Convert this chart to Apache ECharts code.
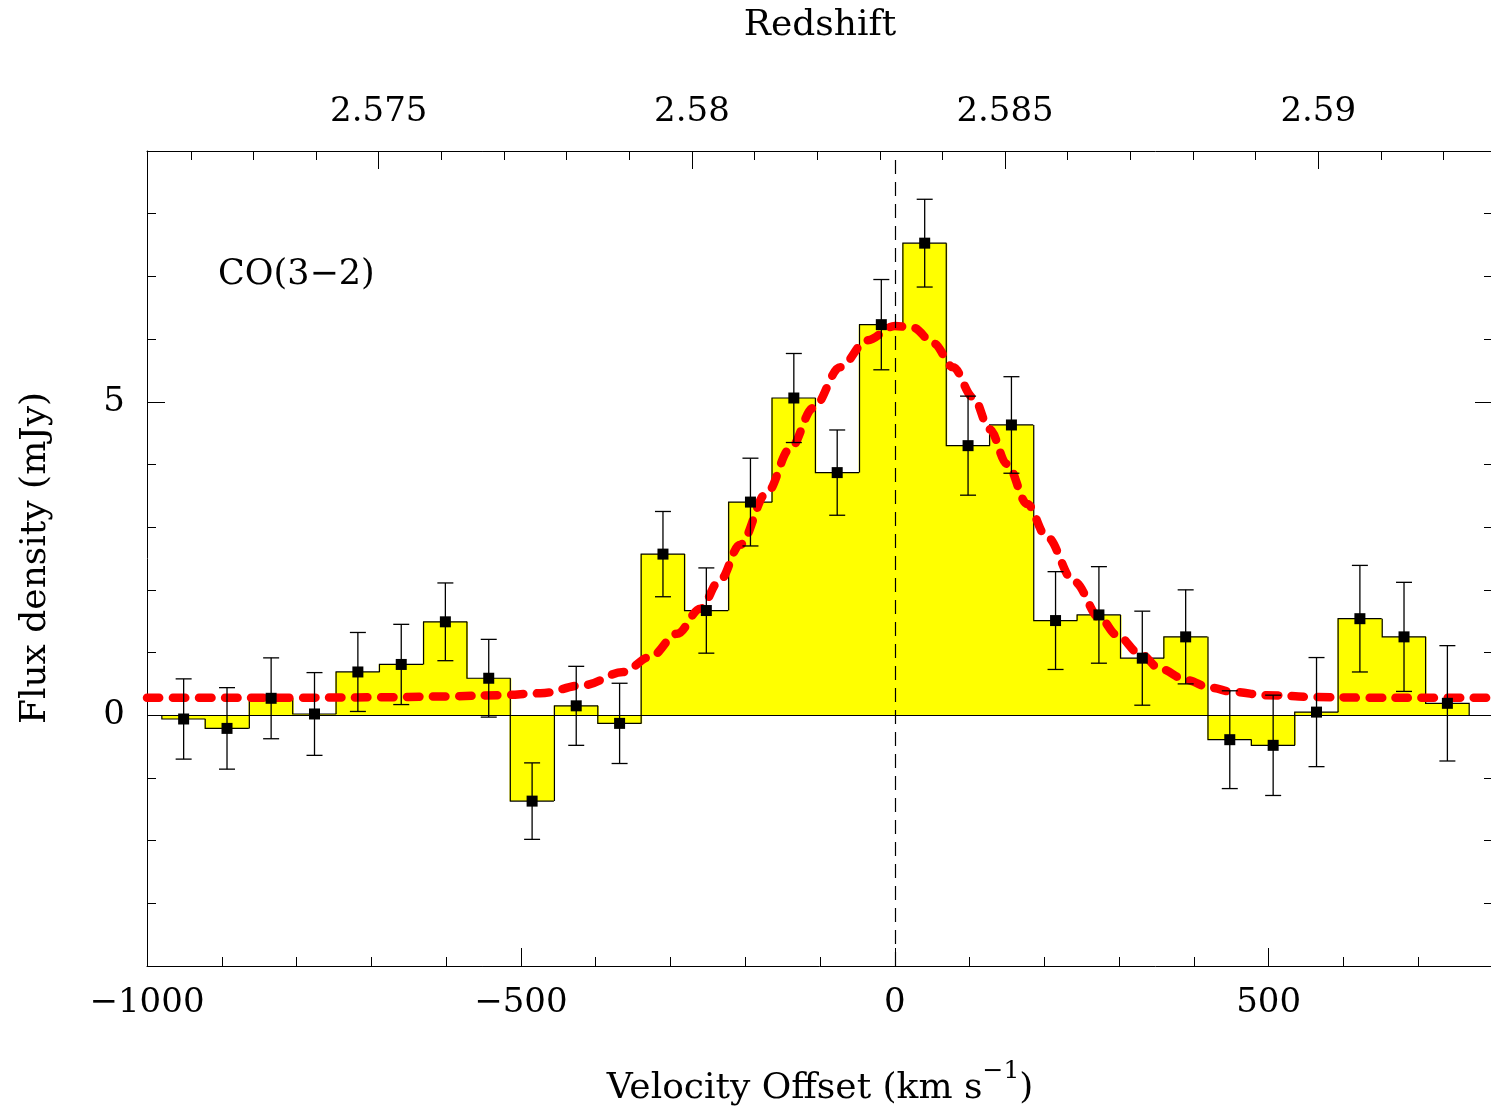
<!DOCTYPE html>
<html>
<head>
<meta charset="utf-8">
<script src="https://cdn.jsdelivr.net/npm/echarts@6.0.0/dist/echarts.min.js"></script>
<style>
html,body{margin:0;padding:0;background:#fff;}
#chart{width:1491px;height:1114px;}
</style>
</head>
<body>
<div id="chart"></div>
<script>
// ---- data ----
var velocity = [-951, -893, -834, -776, -718, -660, -601, -543, -485, -426,
                -368, -310, -252, -193, -135, -77, -18, 40, 98, 156,
                215, 273, 331, 389, 448, 506, 564, 622, 681, 739];
var flux = [-0.06, -0.21, 0.27, 0.02, 0.69, 0.81, 1.49, 0.59, -1.37, 0.15,
            -0.13, 2.57, 1.67, 3.40, 5.06, 3.87, 6.23, 7.53, 4.30, 4.63,
            1.51, 1.60, 0.91, 1.25, -0.39, -0.48, 0.05, 1.54, 1.25, 0.19];
var fluxError = [0.64, 0.65, 0.645, 0.66, 0.63, 0.64, 0.62, 0.62, 0.61, 0.63,
                 0.64, 0.68, 0.68, 0.70, 0.71, 0.68, 0.72, 0.70, 0.79, 0.77,
                 0.78, 0.77, 0.75, 0.75, 0.78, 0.80, 0.87, 0.85, 0.87, 0.92];
var channelWidth = 58.3;
var fitVelocity = [-1000, -900, -800, -700, -600, -527, -474, -416, -363, -327,
                   -291, -260, -234, -207, -171, -140, -109, -73, -37, 0,
                   25, 52, 78, 105, 127, 150, 177, 203, 240, 275,
                   297, 328, 355, 390, 422, 453, 497, 564, 631, 700, 800];
var fitFlux = [0.28, 0.28, 0.28, 0.285, 0.30, 0.32, 0.35, 0.48, 0.69, 0.93,
               1.30, 1.70, 2.15, 2.72, 3.55, 4.25, 4.90, 5.55, 5.98, 6.21,
               6.18, 5.93, 5.55, 5.07, 4.56, 4.01, 3.37, 2.85, 2.13, 1.54,
               1.28, 0.98, 0.74, 0.56, 0.44, 0.37, 0.32, 0.29, 0.28, 0.28, 0.28];

var velocityMin = -1000, velocityMax = 800;
var fluxMin = -4, fluxMax = 9;
var redshiftMin = 2.57130, redshiftMax = 2.59279;
var velocityMajorTicks = [-1000, -500, 0, 500];
var velocityMinorTicks = [-900, -800, -700, -600, -400, -300, -200, -100, 100, 200, 300, 400, 600, 700];
var redshiftMajorTicks = [2.575, 2.58, 2.585, 2.59];
var redshiftMinorTicks = [2.572, 2.573, 2.574, 2.576, 2.577, 2.578, 2.579, 2.581, 2.582, 2.583, 2.584,
                          2.586, 2.587, 2.588, 2.589, 2.591, 2.592];
var fluxMajorTicks = [0, 5];
var fluxMinorTicks = [-3, -2, -1, 1, 2, 3, 4, 6, 7, 8];
var lineLabel = 'CO(3\u22122)';
var xTitle = 'Velocity Offset (km s';
var xTitleSup = '\u22121';
var yTitle = 'Flux density (mJy)';
var topTitle = 'Redshift';

// ---- chart ----
var FONT = 'DejaVu Serif';
var chart = echarts.init(document.getElementById('chart'), null, {renderer: 'canvas'});

function minusFmt(v) {
  var n = Number(v);
  return n < 0 ? '\u2212' + Math.abs(n) : String(n);
}
var lineBlack = {color: '#000', width: 1};
var labelStyle = {color: '#000', fontFamily: FONT, fontSize: 34};

function xAxisDef(opts) {
  return Object.assign({
    type: 'value', gridIndex: 0,
    splitLine: {show: false},
    axisLine: {show: false, onZero: false, lineStyle: lineBlack}
  }, opts);
}
function yAxisDef(opts) {
  return Object.assign({
    type: 'value', gridIndex: 0, min: fluxMin, max: fluxMax,
    splitLine: {show: false},
    axisLine: {show: false, onZero: false, lineStyle: lineBlack}
  }, opts);
}

var histData = velocity.map(function (v, i) { return [v, flux[i]]; });
var errData = velocity.map(function (v, i) { return [v, flux[i], fluxError[i]]; });
var fitData = fitVelocity.map(function (v, i) { return [v, fitFlux[i]]; });

var option = {
  animation: false,
  backgroundColor: '#fff',
  grid: {left: 147, right: -2, top: 151, bottom: 148, containLabel: false, outerBoundsMode: 'none'},
  xAxis: [
    xAxisDef({
      position: 'bottom', min: velocityMin, max: velocityMax,
      axisLine: {show: true, onZero: false, lineStyle: lineBlack},
      axisTick: {show: true, inside: true, length: 18, customValues: velocityMajorTicks, lineStyle: lineBlack},
      axisLabel: Object.assign({show: true, margin: 20, customValues: velocityMajorTicks, formatter: minusFmt}, labelStyle)
    }),
    xAxisDef({
      position: 'bottom', min: velocityMin, max: velocityMax,
      axisTick: {show: true, inside: true, length: 9, customValues: velocityMinorTicks, lineStyle: lineBlack},
      axisLabel: {show: false}
    }),
    xAxisDef({
      position: 'top', min: redshiftMin, max: redshiftMax,
      axisLine: {show: true, onZero: false, lineStyle: lineBlack},
      axisTick: {show: true, inside: true, length: 18, customValues: redshiftMajorTicks, lineStyle: lineBlack},
      axisLabel: Object.assign({show: true, margin: 22, customValues: redshiftMajorTicks,
        formatter: function (v) { return String(Math.round(v * 1000) / 1000); }}, labelStyle)
    }),
    xAxisDef({
      position: 'top', min: redshiftMin, max: redshiftMax,
      axisTick: {show: true, inside: true, length: 9, customValues: redshiftMinorTicks, lineStyle: lineBlack},
      axisLabel: {show: false}
    })
  ],
  yAxis: [
    yAxisDef({
      position: 'left',
      axisLine: {show: true, onZero: false, lineStyle: lineBlack},
      axisTick: {show: true, inside: true, length: 18, customValues: fluxMajorTicks, lineStyle: lineBlack},
      axisLabel: Object.assign({show: true, margin: 22, customValues: fluxMajorTicks, formatter: minusFmt}, labelStyle)
    }),
    yAxisDef({
      position: 'left',
      axisTick: {show: true, inside: true, length: 9, customValues: fluxMinorTicks, lineStyle: lineBlack},
      axisLabel: {show: false}
    }),
    yAxisDef({
      position: 'right',
      axisLine: {show: true, onZero: false, lineStyle: lineBlack},
      axisTick: {show: true, inside: true, length: 18, customValues: fluxMajorTicks, lineStyle: lineBlack},
      axisLabel: {show: false}
    }),
    yAxisDef({
      position: 'right',
      axisTick: {show: true, inside: true, length: 9, customValues: fluxMinorTicks, lineStyle: lineBlack},
      axisLabel: {show: false}
    })
  ],
  series: [
    {
      name: 'histogram', type: 'custom', xAxisIndex: 0, yAxisIndex: 0, z: 1, silent: true,
      clip: true,
      data: histData,
      renderItem: function (params, api) {
        var i = params.dataIndex;
        var v = api.value(0), f = api.value(1);
        var prev = i > 0 ? flux[i - 1] : 0;
        var tl = api.coord([v - channelWidth / 2, f]);
        var br = api.coord([v + channelWidth / 2, 0]);
        var pp = api.coord([v - channelWidth / 2, prev]);
        var pts = [[tl[0], pp[1]], [tl[0], tl[1]], [br[0], tl[1]]];
        if (i === flux.length - 1) pts.push([br[0], br[1]]);
        var pad = (i === 0 || i === flux.length - 1) ? 0 : 0.8;
        return {
          type: 'group',
          children: [
            {type: 'rect', shape: {x: tl[0] - pad, y: Math.min(tl[1], br[1]), width: br[0] - tl[0] + 2 * pad, height: Math.abs(br[1] - tl[1])},
             style: {fill: '#ffff00', stroke: null}},
            {type: 'polyline', shape: {points: pts}, style: {stroke: '#000', lineWidth: 1.2, fill: null}, z2: 2}
          ]
        };
      }
    },
    {
      name: 'refLines', type: 'line', xAxisIndex: 0, yAxisIndex: 0, z: 2, data: [],
      markLine: {
        silent: true, symbol: ['none', 'none'], label: {show: false}, animation: false,
        data: [
          {yAxis: 0, lineStyle: {color: '#000', width: 1.2, type: 'solid'}},
          {xAxis: 0, lineStyle: {color: '#000', width: 1.2, type: [14, 8]}}
        ]
      }
    },
    {
      name: 'fit', type: 'line', xAxisIndex: 0, yAxisIndex: 0, z: 3, silent: true,
      data: fitData, showSymbol: false, symbol: 'none', smooth: 0.35, smoothMonotone: 'x',
      lineStyle: {color: '#ff0000', width: 8.5, type: [12.5, 13.5], cap: 'round', join: 'round', opacity: 1}
    },
    {
      name: 'errors', type: 'custom', xAxisIndex: 0, yAxisIndex: 0, z: 4, silent: true,
      data: errData,
      renderItem: function (params, api) {
        var v = api.value(0), f = api.value(1), e = api.value(2);
        var hi = api.coord([v, f + e]);
        var lo = api.coord([v, f - e]);
        var cap = 8;
        var st = {stroke: '#000', lineWidth: 1.3};
        return {
          type: 'group',
          children: [
            {type: 'line', shape: {x1: hi[0], y1: hi[1], x2: lo[0], y2: lo[1]}, style: st},
            {type: 'line', shape: {x1: hi[0] - cap, y1: hi[1], x2: hi[0] + cap, y2: hi[1]}, style: st},
            {type: 'line', shape: {x1: lo[0] - cap, y1: lo[1], x2: lo[0] + cap, y2: lo[1]}, style: st}
          ]
        };
      }
    },
    {
      name: 'points', type: 'scatter', xAxisIndex: 0, yAxisIndex: 0, z: 5, silent: true,
      data: histData, symbol: 'rect', symbolSize: 11,
      itemStyle: {color: '#000', opacity: 1}
    }
  ],
  graphic: [
    {type: 'text', z: 10, silent: true, x: 218, y: 275,
     style: {text: lineLabel, fill: '#000', font: '35px "DejaVu Serif"', align: 'left', verticalAlign: 'middle'}},
    {type: 'text', z: 10, silent: true, x: 820, y: 26,
     style: {text: topTitle, fill: '#000', font: '36px "DejaVu Serif"', align: 'center', verticalAlign: 'middle'}},
    {type: 'text', z: 10, silent: true, x: 820, y: 1089,
     style: {
       text: '{a|' + xTitle + '}{s|' + xTitleSup + '}{a|)}',
       fill: '#000', align: 'center', verticalAlign: 'middle',
       rich: {
         a: {fontFamily: FONT, fontSize: 36, lineHeight: 60, fill: '#000'},
         s: {fontFamily: FONT, fontSize: 25, lineHeight: 25, verticalAlign: 'top', fill: '#000'}
       }
     }},
    {type: 'text', z: 10, silent: true, x: 36, y: 558, rotation: Math.PI / 2,
     style: {text: yTitle, fill: '#000', font: '36px "DejaVu Serif"', align: 'center', verticalAlign: 'middle'}}
  ]
};
chart.setOption(option);
</script>
</body>
</html>
